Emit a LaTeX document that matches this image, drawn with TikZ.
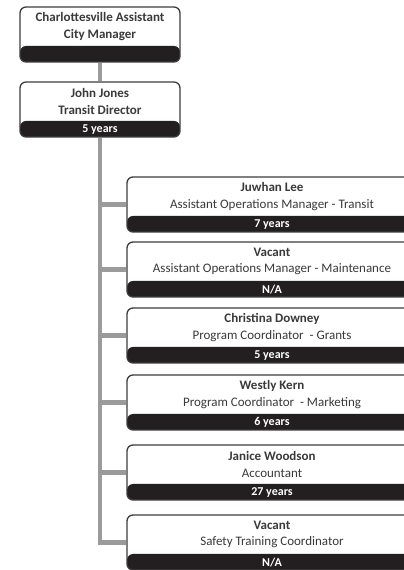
\documentclass[tikz,border=0pt]{standalone}
\usepackage{fontspec}
\setmainfont{Carlito}

\definecolor{band}{HTML}{231F20}
\definecolor{rim}{HTML}{3C3C3C}
\definecolor{linkgray}{HTML}{9B9B9B}
\definecolor{ink}{HTML}{3A3A3A}

\begin{document}
\begin{tikzpicture}[x=1pt,y=1pt,
  card/.style={draw=rim, line width=1.3pt, rounded corners=6pt, fill=white,
    minimum height=55pt, inner sep=0pt,
    path picture={\fill[band] (path picture bounding box.south west)
      rectangle ([yshift=16pt]path picture bounding box.south east);}},
  who/.style={align=center, text=ink, font=\fontsize{13}{16.5}\selectfont},
  tag/.style={text=white, font=\fontsize{12}{12}\selectfont\bfseries},
  link/.style={draw=linkgray, line width=4.5pt}]

  \useasboundingbox (0,0) rectangle (404,570);
  \clip (0,0) rectangle (404,570);

  % top of the chart
  \node[card, minimum width=160pt] (acm) at (100,535.5) {};
  \node[who] (acm-name) at ([yshift=8pt]acm.center)
    {\bfseries Charlottesville Assistant\\\bfseries City Manager};

  \node[card, minimum width=160pt] (jones) at (100,460.5) {};
  \node[who] (jones-name) at ([yshift=8pt]jones.center)
    {\bfseries John Jones\\\bfseries Transit Director};
  \node[tag] (jones-yrs) at ([yshift=8pt]jones.south) {5 years};

  \draw[link] (acm.south) -- (jones.north);

  % staff under the director
  \foreach \y/\id/\nm/\job/\yrs in {
      365.5/lee/Juwhan Lee/Assistant Operations Manager - Transit/7 years,
      300.5/vac1/Vacant/Assistant Operations Manager - Maintenance/{N/A},
      234.5/downey/Christina Downey/Program Coordinator\ \ - Grants/5 years,
      167.5/kern/Westly Kern/Program Coordinator\ \ - Marketing/6 years,
      97.5/woodson/Janice Woodson/Accountant/27 years,
      27.5/vac2/Vacant/Safety Training Coordinator/{N/A}} {
    \node[card, minimum width=290pt] (\id) at (272,\y) {};
    \node[who] (\id-name) at ([yshift=8pt]\id.center) {\textbf{\nm}\\\job};
    \node[tag] (\id-yrs) at ([yshift=8pt]\id.south) {\yrs};
    \draw[link] (jones.south) |- (\id.west);
  }
\end{tikzpicture}
\end{document}
